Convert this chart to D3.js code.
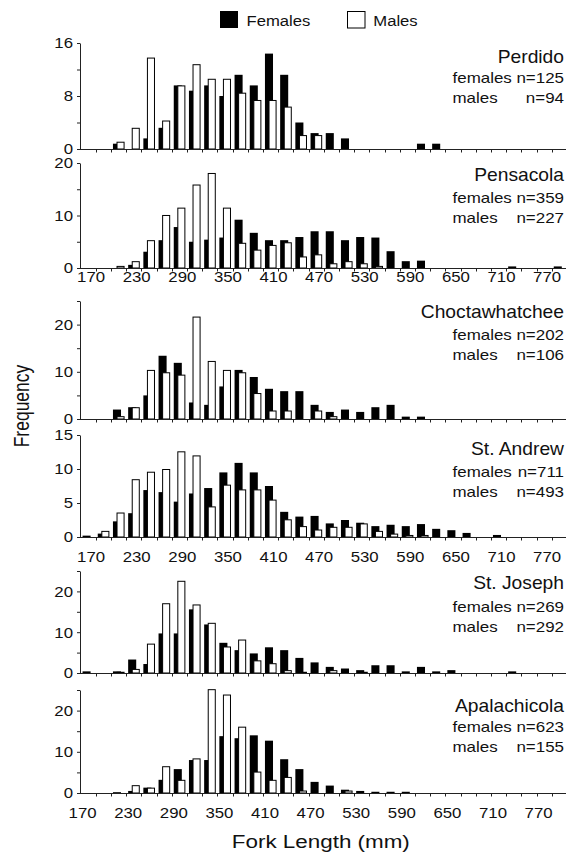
<!DOCTYPE html>
<html>
<head>
<meta charset="utf-8">
<script src="https://cdn.jsdelivr.net/npm/d3@7"></script>
<style>
  html, body { margin: 0; padding: 0; background: #fff; }
  svg { display: block; }
  text { font-family: Arial, "Liberation Sans", Helvetica, sans-serif; fill: #111; }
</style>
</head>
<body>
<svg id="chart" width="566" height="856"></svg>
<script>
// 20 mm fork-length bins (lower bound of each bin)
const bins = [170,190,210,230,250,270,290,310,330,350,370,390,410,430,450,470,
              490,510,530,550,570,590,610,630,650,670,690,710,730,750,770,790];
const tickLabels = [170,230,290,350,410,470,530,590,650,710,770];
const seriesNames = ["Females", "Males"];

const siteNames = ["Perdido", "Pensacola", "Choctawhatchee", "St. Andrew", "St. Joseph", "Apalachicola"];
const femaleN = [125, 359, 202, 711, 269, 623];
const maleN   = [94, 227, 106, 493, 292, 155];

// Percent frequency of each bin, by estuary
const perdidoFemales = [0,0,0.8,0,1.6,3.2,9.6,8.8,9.6,8.0,11.2,9.6,14.4,11.2,4.0,2.4,2.4,1.6,0,0,0,0,0.8,0.8,0,0,0,0,0,0,0,0];
const perdidoMales   = [0,0,1.1,3.2,13.8,4.3,9.6,12.8,10.6,10.6,8.5,7.4,7.4,6.4,2.1,2.1,0,0,0,0,0,0,0,0,0,0,0,0,0,0,0,0];

const pensacolaFemales = [0,0,0,0.6,3.1,5.3,7.8,5.0,5.4,5.8,9.2,6.7,5.3,5.3,5.9,7.0,7.0,5.3,5.9,5.8,3.2,1.3,1.4,0,0,0,0,0,0.3,0,0,0.3];
const pensacolaMales   = [0,0,0.4,1.3,5.3,10.1,11.5,15.9,18.1,11.5,4.8,3.5,4.4,4.9,2.2,2.6,0.9,1.3,0.9,0.4,0,0,0,0,0,0,0,0,0,0,0,0];

const choctawhatcheeFemales = [0,0,2.0,2.5,5.0,13.4,11.9,3.5,3.0,6.9,10.4,8.9,6.4,5.9,5.9,3.0,1.5,2.0,1.5,2.5,3.0,0.5,0.5,0,0,0,0,0,0,0,0,0];
const choctawhatcheeMales   = [0,0,0.6,2.5,10.4,9.9,9.4,21.7,12.3,10.4,9.9,5.5,1.8,1.8,0,1.8,0.6,0,0,0,0,0,0,0,0,0,0,0,0,0,0,0];

const stAndrewFemales = [0.2,0.5,2.3,3.5,6.9,6.6,5.2,6.4,7.2,9.5,10.9,9.5,7.5,3.7,3.0,3.1,2.0,2.5,2.1,1.6,1.8,1.6,1.9,1.2,1.0,0.6,0,0.3,0,0,0,0];
const stAndrewMales   = [0,0.9,3.6,8.5,9.6,10.0,12.6,12.0,4.5,7.7,7.0,7.0,5.5,2.6,1.6,1.1,1.5,1.5,2.0,0.9,0.5,0.3,0.3,0,0,0,0,0,0,0,0,0];

const stJosephFemales = [0.4,0,0.4,3.3,2.2,9.7,9.7,15.6,11.9,7.4,5.6,4.8,6.3,5.6,3.7,2.6,1.5,1.1,0.7,1.9,1.9,0.4,1.5,0.4,0.7,0,0,0,0.4,0,0,0];
const stJosephMales   = [0,0,0.3,1.0,7.2,17.1,22.6,16.8,12.3,6.5,8.2,3.1,2.4,0.7,0.3,0,0.7,0,0.3,0,0,0,0,0,0,0,0,0,0,0,0,0];

const apalachicolaFemales = [0,0,0.2,0.5,1.3,3.2,5.8,8.0,8.0,13.8,13.3,14.0,12.7,8.2,5.8,2.7,1.8,0.8,0.5,0.3,0.3,0.3,0,0,0,0,0,0,0,0,0,0];
const apalachicolaMales   = [0,0,0,1.9,1.3,6.5,3.2,8.4,25.2,23.9,16.1,5.2,3.2,3.9,0.6,0,0,0.6,0,0,0,0,0,0,0,0,0,0,0,0,0,0];

// y-axis extent, labelled-tick step and minor-tick step per panel
const yMax       = [16, 20, 25, 15, 25, 25];
const yLabelStep = [8, 10, 10, 5, 10, 10];
const yTickStep  = [4, 5, 5, 5, 5, 5];

const femaleSeries = [perdidoFemales, pensacolaFemales, choctawhatcheeFemales, stAndrewFemales, stJosephFemales, apalachicolaFemales];
const maleSeries   = [perdidoMales, pensacolaMales, choctawhatcheeMales, stAndrewMales, stJosephMales, apalachicolaMales];

// ---- layout ----
const svg = d3.select("#chart");
const plotLeft = 80, bandW = 15.2;
const x = d3.scaleBand().domain(bins).range([plotLeft + 0.5, plotLeft + 0.5 + bins.length * bandW]);

const panels = [
  { top: 43,  base: 149, titleY: 63.3,  femY: 83.3,  maleY: 103.3, xLab: null },
  { top: 163, base: 268, titleY: 180.7, femY: 203.3, maleY: 223.3, xLab: { y: 281.7, dx: 3 } },
  { top: 301, base: 419, titleY: 318.3, femY: 340,   maleY: 360,   xLab: null },
  { top: 435, base: 537, titleY: 455,   femY: 476.7, maleY: 496.7, xLab: { y: 561.7, dx: 3 } },
  { top: 571, base: 673, titleY: 588.5, femY: 611.7, maleY: 631.7, xLab: null },
  { top: 690, base: 793, titleY: 711.7, femY: 731.7, maleY: 751.7, xLab: { y: 818.3, dx: -5.5 } }
];

const axisColor = "#222";

// text drawn slightly wider than its nominal font size
function label(g, px, py, str, size, sx, anchor) {
  return g.append("text")
    .attr("transform", `translate(${px},${py}) scale(${sx},1)`)
    .attr("font-size", size)
    .attr("text-anchor", anchor || "start")
    .text(str);
}

panels.forEach((p, k) => {
  const g = svg.append("g").attr("class", "panel");
  const y = d3.scaleLinear().domain([0, yMax[k]]).range([p.base, p.top]);

  // y axis: line with outward ticks
  const yAxis = d3.axisLeft(y)
    .tickValues(d3.range(0, yMax[k] + 0.001, yTickStep[k]))
    .tickSize(3).tickSizeOuter(0).tickFormat("");
  const ya = g.append("g").attr("transform", `translate(${plotLeft},0)`).call(yAxis);
  ya.selectAll("path, line").attr("stroke", axisColor);

  d3.range(0, yMax[k] + 0.001, yLabelStep[k]).forEach(v => {
    label(g, 73, y(v) + 5.4, String(v), 15, 1.12, "end");
  });

  // bars: females (black) first, males (white) overlap on top
  const fem = femaleSeries[k], mal = maleSeries[k];
  const bw = x.bandwidth();
  g.append("g").selectAll("rect")
    .data(bins.map((b, i) => ({ b, v: fem[i] })).filter(d => d.v > 0))
    .join("rect")
    .attr("x", d => x(d.b) + bw * 0.135)
    .attr("width", bw * 0.53)
    .attr("y", d => y(d.v))
    .attr("height", d => y(0) - y(d.v))
    .attr("fill", "#000");

  g.append("g").selectAll("rect")
    .data(bins.map((b, i) => ({ b, v: mal[i] })).filter(d => d.v > 0))
    .join("rect")
    .attr("x", d => x(d.b) + bw * 0.37 + 0.5)
    .attr("width", bw * 0.53 - 1)
    .attr("y", d => y(d.v) + 0.5)
    .attr("height", d => Math.max(0.5, y(0) - y(d.v) - 0.5))
    .attr("fill", "#fff")
    .attr("stroke", "#000")
    .attr("stroke-width", 1);

  // x baseline with ticks at bin boundaries
  const xEnd = plotLeft + 0.5 + bins.length * bandW;
  g.append("line")
    .attr("x1", plotLeft).attr("x2", xEnd)
    .attr("y1", p.base + 0.5).attr("y2", p.base + 0.5)
    .attr("stroke", axisColor);
  g.append("g").selectAll("line")
    .data(bins.slice(1))
    .join("line")
    .attr("x1", d => Math.round(x(d)) + 0.5).attr("x2", d => Math.round(x(d)) + 0.5)
    .attr("y1", p.base).attr("y2", p.base + 3.5)
    .attr("stroke", axisColor);

  if (p.xLab) {
    tickLabels.forEach(t => {
      label(g, x(t) + bw / 2 + p.xLab.dx, p.xLab.y, String(t), 15, 1.12, "middle");
    });
  }

  // estuary name and sample sizes
  label(g, 564, p.titleY, siteNames[k], 17.5, 1.1, "end");
  label(g, 452.5, p.femY, "females", 15, 1.13, "start");
  label(g, 564, p.femY, "n=" + femaleN[k], 15, 1.13, "end");
  label(g, 452.5, p.maleY, "males", 15, 1.13, "start");
  label(g, 564, p.maleY, "n=" + maleN[k], 15, 1.13, "end");
});

// legend
const lg = svg.append("g").attr("class", "legend");
lg.append("rect").attr("x", 220).attr("y", 11).attr("width", 18).attr("height", 17).attr("fill", "#000");
label(lg, 246.5, 26, seriesNames[0], 15, 1.11, "start");
lg.append("rect").attr("x", 347.5).attr("y", 11.5).attr("width", 17.5).attr("height", 16.5)
  .attr("fill", "#fff").attr("stroke", "#000");
label(lg, 373.3, 26, seriesNames[1], 15, 1.11, "start");

// axis titles
label(svg, 320.8, 848.3, "Fork Length (mm)", 19, 1.18, "middle");
svg.append("text")
  .attr("transform", "translate(28.6,406) scale(1.25,1) rotate(-90)")
  .attr("font-size", 17.5)
  .attr("text-anchor", "middle")
  .text("Frequency");
</script>
</body>
</html>
